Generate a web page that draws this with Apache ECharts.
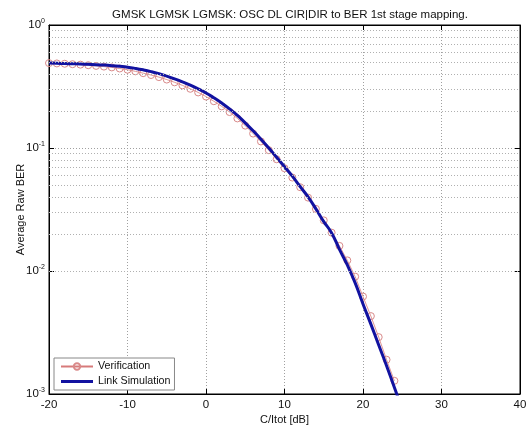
<!DOCTYPE html>
<html>
<head>
<meta charset="utf-8">
<script src="https://cdn.jsdelivr.net/npm/echarts@6/dist/echarts.min.js"></script>
<style>
  html, body { margin: 0; padding: 0; background: #fff; }
  #main { width: 531px; height: 430px; }
</style>
</head>
<body>
<div id="main"></div>
<script>
// C/Itot in dB
const cirDb = [-20, -19, -18, -17, -16, -15, -14, -13, -12, -11, -10, -9, -8, -7, -6, -5, -4, -3, -2, -1,
  0, 1, 2, 3, 4, 5, 6, 7, 8, 9, 10, 11, 12, 13, 14, 15, 16, 17, 18, 19, 20, 21, 22, 23, 24, 25];
const linkSimulation = [0.490, 0.488, 0.486, 0.484, 0.482, 0.479, 0.476, 0.472, 0.467, 0.461,
  0.454, 0.444, 0.432, 0.418, 0.402, 0.384, 0.365, 0.345, 0.324, 0.302,
  0.280, 0.256, 0.232, 0.208, 0.184, 0.160, 0.138, 0.118, 0.100, 0.084,
  0.0705, 0.059, 0.0485, 0.040, 0.032, 0.0252, 0.0204, 0.0150, 0.0112, 0.0080,
  0.0054, 0.0037, 0.0025, 0.0017, 0.00113, 0.00075];
const verification = [0.490, 0.487, 0.484, 0.480, 0.476, 0.471, 0.465, 0.459, 0.452, 0.443,
  0.433, 0.420, 0.406, 0.392, 0.377, 0.360, 0.342, 0.323, 0.303, 0.283,
  0.262, 0.240, 0.218, 0.196, 0.174, 0.152, 0.131, 0.113, 0.096, 0.081,
  0.0685, 0.0575, 0.0480, 0.0395, 0.0320, 0.0258, 0.0205, 0.0160, 0.0122, 0.0090,
  0.0062, 0.0043, 0.0029, 0.0019, 0.00128];
// minor grid levels of the log axis
const minorLevels = [0.002, 0.003, 0.004, 0.005, 0.006, 0.007, 0.008, 0.009,
  0.02, 0.03, 0.04, 0.05, 0.06, 0.07, 0.08, 0.09,
  0.2, 0.3, 0.4, 0.5, 0.6, 0.7, 0.8, 0.9];

const font = "'Liberation Sans', Arial, sans-serif";
const gridLine = { show: true, lineStyle: { color: '#a0a0a0', type: [1, 2], width: 1 } };
const frameTick = { inside: true, length: 5, lineStyle: { color: '#000' } };

var myChart = echarts.init(document.getElementById('main'));
myChart.setOption({
  animation: false,
  textStyle: { fontFamily: font },
  title: {
    text: 'GMSK LGMSK LGMSK: OSC DL CIR|DIR to BER 1st stage mapping.',
    left: 285, top: 4, textAlign: 'center',
    textStyle: { fontSize: 11.5, fontWeight: 'normal', color: '#111', fontFamily: font }
  },
  grid: { left: 49, right: 11, top: 25, bottom: 36, show: true, borderColor: '#000', borderWidth: 1, backgroundColor: '#fff' },
  legend: {
    orient: 'vertical', left: 54, top: 358,
    backgroundColor: '#fff', borderColor: '#888', borderWidth: 1,
    padding: [3, 4, 3, 6], itemGap: 4, itemWidth: 32, itemHeight: 8,
    textStyle: { fontSize: 10.7, color: '#111', fontFamily: font },
    data: [
      { name: 'Verification' },
      { name: 'Link Simulation', icon: 'path://M0,0 L32,0 L32,3 L0,3 Z' }
    ]
  },
  xAxis: [{
    type: 'value', min: -20, max: 40, interval: 10,
    name: 'C/Itot [dB]', nameLocation: 'middle', nameGap: 20, nameMoveOverlap: false,
    nameTextStyle: { fontSize: 11, color: '#111' },
    axisLine: { onZero: false, lineStyle: { color: '#000' } },
    axisTick: frameTick,
    axisLabel: { fontSize: 11.5, color: '#111', margin: 5 },
    splitLine: gridLine
  }, {
    type: 'value', min: -20, max: 40, interval: 10, position: 'top',
    axisLine: { onZero: false, lineStyle: { color: '#000' } },
    axisTick: frameTick,
    axisLabel: { show: false }, splitLine: { show: false }
  }],
  yAxis: [{
    type: 'log', logBase: 10, min: 0.001, max: 1,
    name: 'Average Raw BER', nameLocation: 'middle', nameGap: 23, nameMoveOverlap: false,
    nameTextStyle: { fontSize: 11, color: '#111' },
    axisLine: { onZero: false, lineStyle: { color: '#000' } },
    axisTick: frameTick,
    axisLabel: {
      fontSize: 11.5, color: '#111', margin: 4,
      formatter: function (v) { return '10{sup|' + Math.round(Math.log10(v)) + '}'; },
      rich: { sup: { fontSize: 7, color: '#111', padding: [0, 0, 7, 0] } }
    },
    splitLine: gridLine
  }, {
    type: 'log', logBase: 10, min: 0.001, max: 1, position: 'right',
    axisLine: { onZero: false, lineStyle: { color: '#000' } },
    axisTick: frameTick,
    axisLabel: { show: false }, splitLine: { show: false }
  }],
  series: [{
    name: 'Verification', type: 'line',
    data: verification.map((v, i) => [cirDb[i], v]),
    symbol: 'circle', symbolSize: 7,
    lineStyle: { color: '#d77a7a', width: 0.8 },
    itemStyle: { color: 'rgba(255,255,255,0)', borderColor: '#d98a8a', borderWidth: 1 },
    markLine: {
      silent: true, symbol: 'none', label: { show: false },
      lineStyle: { color: '#b0b0b0', type: [1, 2], width: 1 },
      data: minorLevels.map(v => ({ yAxis: v }))
    },
    z: 3
  }, {
    name: 'Link Simulation', type: 'line',
    data: linkSimulation.map((v, i) => [cirDb[i], v]),
    symbol: 'none', smooth: true, clip: true,
    lineStyle: { color: '#1212a0', width: 3 },
    itemStyle: { color: '#1212a0' },
    z: 4
  }]
});
window.onresize = function () { myChart.resize(); };
</script>
</body>
</html>
